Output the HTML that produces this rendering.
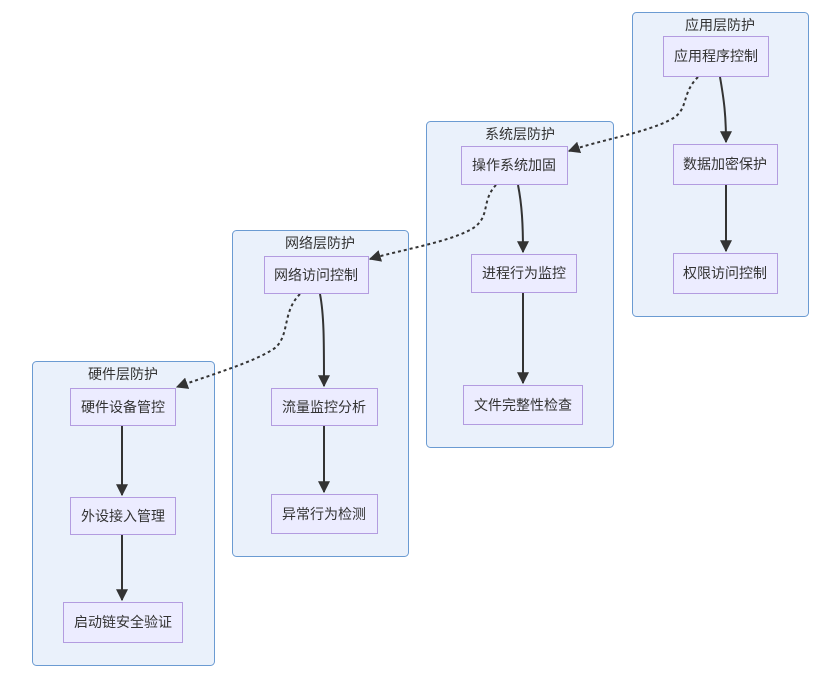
<!DOCTYPE html>
<html><head><meta charset="utf-8"><style>
html,body{margin:0;padding:0;background:#fff;width:830px;height:673px;overflow:hidden}
text{font-family:"Liberation Sans","Noto Sans CJK SC",sans-serif;fill:#333;font-size:14px}
.c{fill:#eaf1fb;stroke:#6b9bd2;stroke-width:1}
.n{fill:#ececff;stroke:#b39ce0;stroke-width:1}
.s{fill:none;stroke:#333;stroke-width:2}
.d{fill:none;stroke:#333;stroke-width:2;stroke-dasharray:3,3}
</style></head><body>
<svg width="830" height="673" viewBox="0 0 830 673" xmlns="http://www.w3.org/2000/svg">
<defs><marker id="a" viewBox="0 0 10 10" refX="9" refY="5" markerWidth="7" markerHeight="7" markerUnits="userSpaceOnUse" orient="auto"><path d="M0,0L10,5L0,10z" fill="#333"/></marker>
<marker id="b" viewBox="0 0 10 10" refX="9" refY="5" markerWidth="12" markerHeight="12" markerUnits="userSpaceOnUse" orient="auto"><path d="M0,0L10,5L0,10z" fill="#333"/></marker></defs>
<rect class="c" x="32.5" y="361.5" width="182" height="304" rx="4"/>
<rect class="c" x="232.5" y="230.5" width="176" height="326" rx="4"/>
<rect class="c" x="426.5" y="121.5" width="187" height="326" rx="4"/>
<rect class="c" x="632.5" y="12.5" width="176" height="304" rx="4"/>
<g text-anchor="middle">
<text x="123" y="379">硬件层防护</text>
<text x="320" y="248">网络层防护</text>
<text x="520" y="139">系统层防护</text>
<text x="720" y="30">应用层防护</text>
</g>
<path class="s" d="M720,77 C724,100 726,115 726,142" marker-end="url(#b)"/>
<path class="s" d="M726,185 L726,251" marker-end="url(#b)"/>
<path class="s" d="M518,185 C522,205 523,225 523,252" marker-end="url(#b)"/>
<path class="s" d="M523,293 L523,383" marker-end="url(#b)"/>
<path class="s" d="M320,294 C324,315 324,340 324,386" marker-end="url(#b)"/>
<path class="s" d="M324,426 L324,492" marker-end="url(#b)"/>
<path class="s" d="M122,426 L122,495" marker-end="url(#b)"/>
<path class="s" d="M122,535 L122,600" marker-end="url(#b)"/>
<path class="d" d="M698,77 C680,95 690,110 670,120 C645,133 600,140 569,151" marker-end="url(#b)"/>
<path class="d" d="M496,185 C480,202 492,218 470,230 C445,243 400,250 370,259" marker-end="url(#b)"/>
<path class="d" d="M300,294 C282,312 290,335 275,348 C255,362 210,375 177,387" marker-end="url(#b)"/>
<rect class="n" x="70.5" y="388.5" width="105" height="37"/>
<rect class="n" x="70.5" y="497.5" width="105" height="37"/>
<rect class="n" x="63.5" y="602.5" width="119" height="40"/>
<rect class="n" x="264.5" y="256.5" width="104" height="37"/>
<rect class="n" x="271.5" y="388.5" width="106" height="37"/>
<rect class="n" x="271.5" y="494.5" width="106" height="39"/>
<rect class="n" x="461.5" y="146.5" width="106" height="38"/>
<rect class="n" x="471.5" y="254.5" width="105" height="38"/>
<rect class="n" x="463.5" y="385.5" width="119" height="39"/>
<rect class="n" x="663.5" y="36.5" width="105" height="40"/>
<rect class="n" x="673.5" y="144.5" width="104" height="40"/>
<rect class="n" x="673.5" y="253.5" width="104" height="40"/>
<g text-anchor="middle">
<text x="123" y="412">硬件设备管控</text>
<text x="123" y="521">外设接入管理</text>
<text x="123" y="627">启动链安全验证</text>
<text x="316" y="280">网络访问控制</text>
<text x="324" y="412">流量监控分析</text>
<text x="324" y="519">异常行为检测</text>
<text x="514" y="170">操作系统加固</text>
<text x="524" y="278">进程行为监控</text>
<text x="523" y="410">文件完整性检查</text>
<text x="716" y="61">应用程序控制</text>
<text x="725" y="169">数据加密保护</text>
<text x="725" y="278">权限访问控制</text>
</g>
</svg>
</body></html>
